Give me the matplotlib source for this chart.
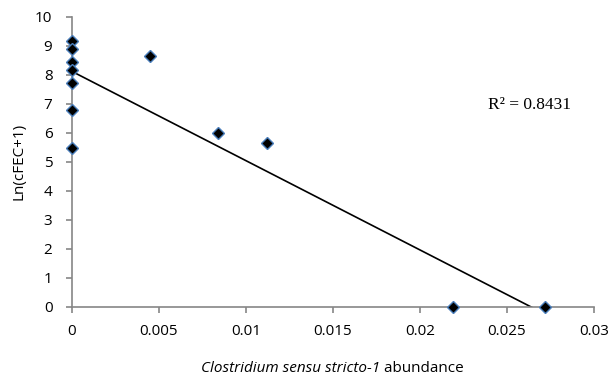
import numpy as np
import matplotlib.pyplot as plt

# values
abundance = [0, 0, 0, 0, 0, 0, 0, 0.00448, 0.00841, 0.01121, 0.02191, 0.02722]
ln_cfec = [9.17, 8.88, 8.46, 8.17, 7.71, 6.79, 5.47, 8.67, 5.99, 5.64, 0, 0]
x_ticks = [0, 0.005, 0.01, 0.015, 0.02, 0.025, 0.03]
x_labels = ['0', '0.005', '0.01', '0.015', '0.02', '0.025', '0.03']
r2_text = 'R² = 0.8431'

plt.rcParams['font.family'] = ['Open Sans', 'DejaVu Sans']

fig = plt.figure(figsize=(6.14, 3.77), dpi=100)
ax = fig.add_axes([0.117, 0.186, 0.85, 0.769])

# linear trendline
slope, intercept = np.polyfit(abundance, ln_cfec, 1)
xs = np.array([0, max(abundance)])
ax.plot(xs, slope * xs + intercept, color='black', lw=1.2, zorder=2)

ax.plot(abundance, ln_cfec, linestyle='none', marker='D', markersize=6.2,
        markerfacecolor='black', markeredgecolor='#4a7ebb', markeredgewidth=1,
        zorder=3, clip_on=False)

ax.set_xlim(0, 0.03)
ax.set_ylim(0, 10)
ax.set_xticks(x_ticks)
ax.set_xticklabels(x_labels)
ax.set_yticks(range(0, 11))

for s in ['top', 'right']:
    ax.spines[s].set_visible(False)
for s in ['left', 'bottom']:
    ax.spines[s].set_color('#868686')
    ax.spines[s].set_linewidth(1.2)
ax.tick_params(axis='both', colors='#868686', labelcolor='black', labelsize=11,
               length=4, width=1.2, direction='out')
ax.tick_params(axis='x', pad=8.5)
ax.tick_params(axis='y', pad=10)

ax.set_ylabel('Ln(cFEC+1)', fontsize=11, labelpad=6)

# x label: italic genus part + plain word, centred under the axes
t1 = fig.text(0, 0.002, 'Clostridium sensu stricto-1', style='italic', fontsize=11,
              ha='left', va='bottom')
t2 = fig.text(0, 0.002, ' abundance', fontsize=11, ha='left', va='bottom')
r = fig.canvas.get_renderer()
w1 = t1.get_window_extent(r).width / fig.bbox.width
w2 = t2.get_window_extent(r).width / fig.bbox.width
cx = 0.117 + 0.85 / 2
t1.set_x(cx - (w1 + w2) / 2)
t2.set_x(cx - (w1 + w2) / 2 + w1)

ax.text(0.0263, 6.97, r2_text, fontsize=12.5, family='Liberation Serif',
        ha='center', va='center')

fig.savefig('out.png', dpi=100)
